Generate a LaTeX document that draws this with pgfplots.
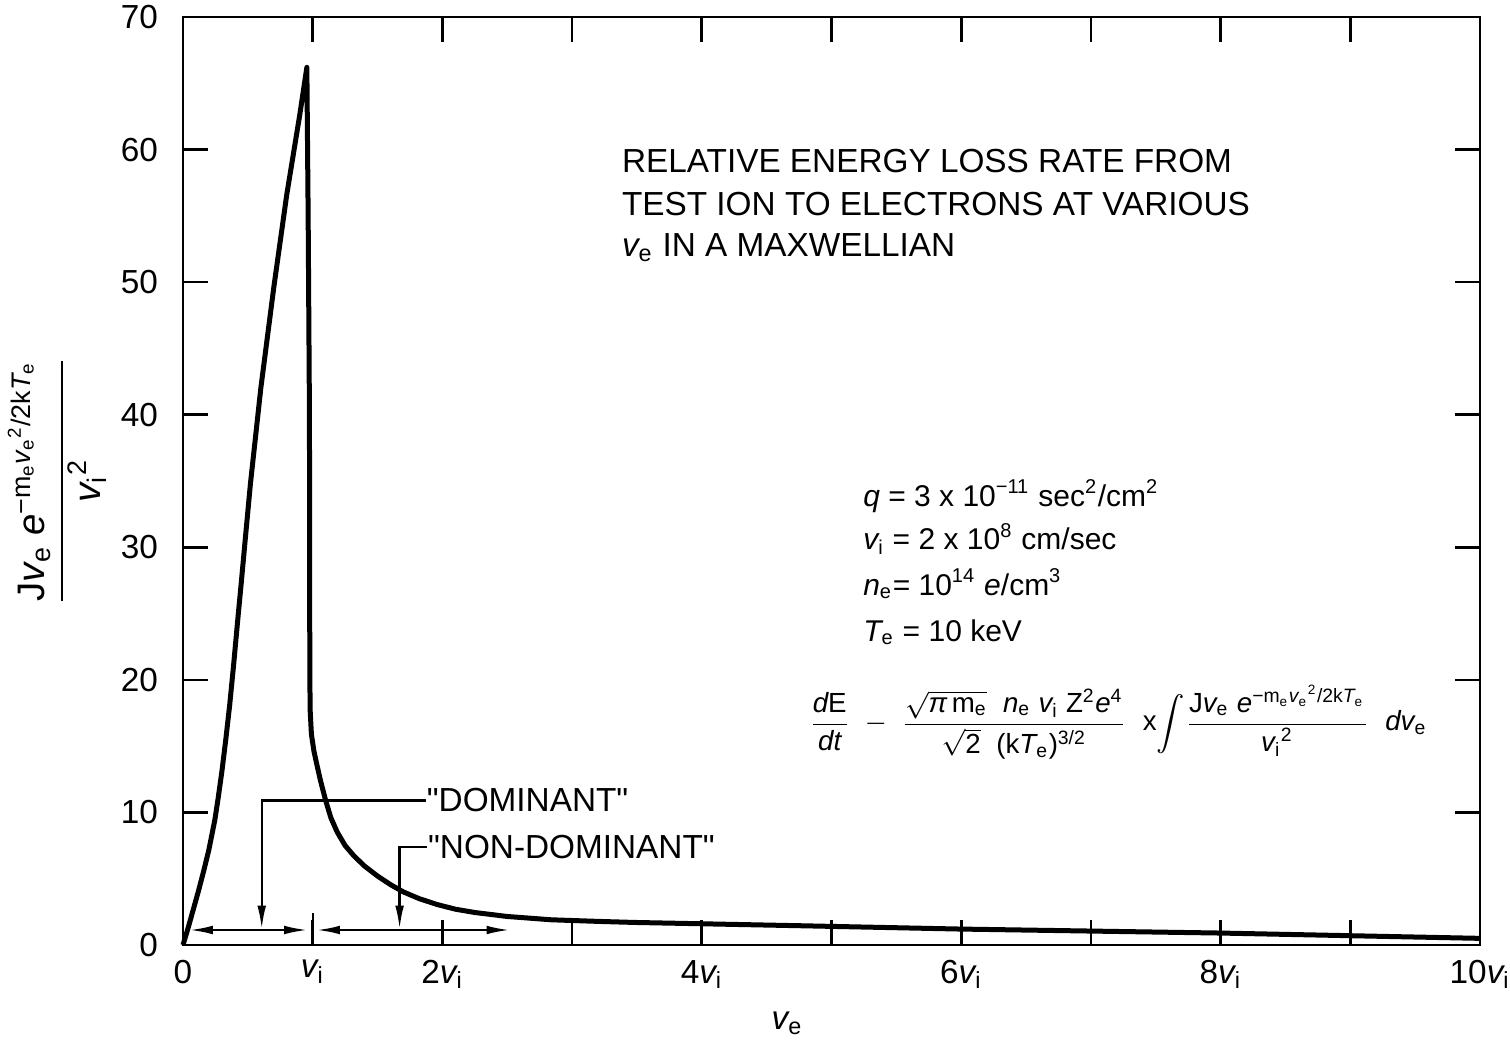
\documentclass[border=0pt]{standalone}
\usepackage{fontspec}
\setmainfont{Liberation Sans}
\newfontfamily\qfont{Liberation Sans}
\usepackage{amsmath}
\usepackage{pgfplots}
\pgfplotsset{compat=1.18}
\usetikzlibrary{arrows.meta}
\newcommand{\iv}{{\itshape v}}
\newcommand{\dq}{{\qfont\symbol{"22}}}
\begin{document}
\begin{tikzpicture}
\begin{axis}[
  at={(0,0)}, anchor=south west,
  width=389.1pt, height=278.4pt, scale only axis,
  xmin=0, xmax=10, ymin=0, ymax=70,
  clip=false,
  axis line style={line width=0.8pt},
  tick style={line width=0.8pt, black},
  major tick length=7.5pt,
  tick align=inside,
  xtick={0,1,2,3,4,5,6,7,8,9,10},
  xticklabels={0,\iv\textsubscript{i},2\iv\textsubscript{i},,4\iv\textsubscript{i},,6\iv\textsubscript{i},,8\iv\textsubscript{i},,10\iv\textsubscript{i}},
  ytick={0,10,20,30,40,50,60,70},
  yticklabels={0,10,20,30,40,50,60,70},
  xticklabel style={font=\fontsize{10}{12}\selectfont, yshift=-1pt},
  yticklabel style={font=\fontsize{10}{12}\selectfont, xshift=-4pt},
  /pgf/number format/assume math mode=true,
]
\addplot[black, line width=1.5pt, line join=round] coordinates {
(0,0) (0.04,1.3) (0.083,2.8) (0.12,4.1) (0.16,5.6) (0.20,7.2) (0.245,9.4)
(0.27,11.0) (0.30,13.1) (0.33,15.5) (0.36,18.1) (0.39,21.1)
(0.42,24.3) (0.45,27.4) (0.48,30.6) (0.52,34.8) (0.60,42.0)
(0.70,49.6) (0.80,56.6) (0.90,62.6) (0.955,66.2)
(0.965,55) (0.975,40) (0.977,25) (0.978,20.0) (0.981,17.6)
(0.99,15.9) (1.01,14.6) (1.03,13.7) (1.06,12.4) (1.10,10.9)
(1.14,9.6) (1.19,8.5) (1.25,7.5) (1.32,6.7) (1.40,5.95)
(1.50,5.2) (1.60,4.55) (1.70,4.0) (1.82,3.5) (1.96,3.05)
(2.10,2.7) (2.25,2.45) (2.50,2.15) (2.84,1.9) (3.2,1.78)
(3.48,1.7) (4.0,1.6) (4.77,1.45) (6,1.2) (7,1.05) (8,0.9) (9,0.7) (10,0.5)
};
% range arrows
\draw[line width=0.7pt, {Latex[length=7pt,width=2.6pt]}-{Latex[length=7pt,width=2.6pt]}] (axis cs:0.05,1.13) -- (axis cs:0.96,1.13);
\draw[line width=0.7pt, {Latex[length=7pt,width=2.6pt]}-{Latex[length=7pt,width=2.6pt]}] (axis cs:1.03,1.13) -- (axis cs:2.52,1.13);
\draw[line width=0.7pt] (axis cs:1,0) -- (axis cs:1,2.4);
% leaders
\draw[line width=0.7pt, -{Latex[length=7pt,width=2.6pt]}] (axis cs:1.87,10.9) -- (axis cs:0.607,10.9) -- (axis cs:0.607,1.2);
\draw[line width=0.7pt, -{Latex[length=7pt,width=2.6pt]}] (axis cs:1.88,7.4) -- (axis cs:1.67,7.4) -- (axis cs:1.67,1.2);
\node[anchor=west, inner sep=0pt, font=\fontsize{10}{12}\selectfont] at (axis cs:1.875,10.9) {\dq DOMINANT\dq};
\node[anchor=west, inner sep=0pt, font=\fontsize{10}{12}\selectfont] at (axis cs:1.885,7.4) {\dq NON-DOMINANT\dq};
% title
\node[anchor=base west, inner sep=0pt, font=\fontsize{10}{12}\selectfont] at (axis cs:3.38,58.3) {RELATIVE ENERGY LOSS RATE FROM};
\node[anchor=base west, inner sep=0pt, font=\fontsize{10}{12}\selectfont] at (axis cs:3.38,55.05) {TEST ION TO ELECTRONS AT VARIOUS};
\node[anchor=base west, inner sep=0pt, font=\fontsize{10}{12}\selectfont] at (axis cs:3.38,51.9) {\iv\textsubscript{e} IN A MAXWELLIAN};
% parameters
\node[anchor=base west, inner sep=0pt, font=\fontsize{9}{11}\selectfont] at (axis cs:5.24,33.1) {{\itshape q} = 3 x 10\textsuperscript{−11} sec\textsuperscript{2}/cm\textsuperscript{2}};
\node[anchor=base west, inner sep=0pt, font=\fontsize{9}{11}\selectfont] at (axis cs:5.24,29.8) {\iv\textsubscript{i} = 2 x 10\textsuperscript{8} cm/sec};
\node[anchor=base west, inner sep=0pt, font=\fontsize{9}{11}\selectfont] at (axis cs:5.24,26.4) {{\itshape n}\textsubscript{e}= 10\textsuperscript{14} {\itshape e}/cm\textsuperscript{3}};
\node[anchor=base west, inner sep=0pt, font=\fontsize{9}{11}\selectfont] at (axis cs:5.24,22.9) {{\itshape T}\textsubscript{e} = 10 keV};
% formula
\node[anchor=west, inner sep=0pt, font=\fontsize{8.3}{10}\selectfont] at (axis cs:4.82,16.8) {$\dfrac{\text{{\itshape d}E}}{\text{{\itshape dt}}} \;-\; \dfrac{\sqrt{\text{{\itshape π}\,m\textsubscript{e}}}\;\;\text{{\itshape n}\textsubscript{e} \iv\textsubscript{i} Z\textsuperscript{2}{\itshape e}\textsuperscript{4}}}{\sqrt{\text{2}}\;\;\text{(k{\itshape T}\textsubscript{e})\textsuperscript{3/2}}}\;\;\text{x}\!\displaystyle\int\!\dfrac{\text{J\iv\textsubscript{e} {\itshape e}\textsuperscript{−m\textsubscript{e}\iv\textsubscript{e}\textsuperscript{2}/2k{\itshape T}\textsubscript{e}}}}{\text{\iv\textsubscript{i}\textsuperscript{2}}}\;\;\text{{\itshape dv}\textsubscript{e}}$};
% y label
\node[rotate=90, inner sep=0pt, font=\fontsize{11.5}{13}\selectfont] at (axis cs:-0.97,35) {$\dfrac{\text{J\iv\textsubscript{e} {\itshape e}\textsuperscript{−m\textsubscript{e}\iv\textsubscript{e}\textsuperscript{2}/2k{\itshape T}\textsubscript{e}}}}{\text{\iv\textsubscript{i}\textsuperscript{2}}}$};
% x label
\node[inner sep=0pt, font=\fontsize{10}{12}\selectfont] at (axis cs:4.66,-5.9) {\iv\textsubscript{e}};
\end{axis}
\pgfresetboundingbox
\path[use as bounding box] (-54.9pt,-28.8pt) rectangle (398.1pt,283.5pt);
\end{tikzpicture}
\end{document}
